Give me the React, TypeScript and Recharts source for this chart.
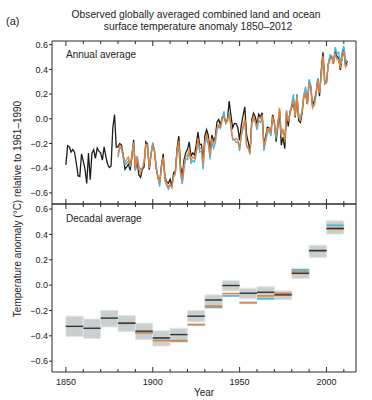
import React from "react";
import {
  ComposedChart,
  Line,
  XAxis,
  YAxis,
  ReferenceArea,
  ReferenceLine,
  Label,
} from "recharts";

// annual anomalies, black series from 1850, the two others from 1880
const START_YEAR = 1850;
const OTHER_START = 1880;

const hadcrut = [
  -0.373, -0.218, -0.228, -0.269, -0.248, -0.272, -0.358, -0.461, -0.467, -0.284,
  -0.343, -0.407, -0.524, -0.278, -0.494, -0.279, -0.251, -0.321, -0.238, -0.262,
  -0.276, -0.335, -0.227, -0.304, -0.368, -0.395, -0.384, -0.075, 0.035, -0.23,
  -0.227, -0.2, -0.213, -0.296, -0.409, -0.389, -0.367, -0.418, -0.307, -0.171,
  -0.416, -0.33, -0.455, -0.473, -0.41, -0.39, -0.186, -0.206, -0.412, -0.289,
  -0.203, -0.259, -0.402, -0.479, -0.52, -0.377, -0.283, -0.465, -0.511, -0.522,
  -0.49, -0.544, -0.437, -0.424, -0.244, -0.141, -0.383, -0.468, -0.333, -0.275,
  -0.247, -0.187, -0.302, -0.276, -0.294, -0.215, -0.108, -0.21, -0.206, -0.35,
  -0.137, -0.087, -0.137, -0.273, -0.131, -0.178, -0.147, -0.026, -0.006, -0.052,
  0.014, 0.02, -0.027, -0.004, 0.144, 0.025, -0.071, -0.038, -0.039, -0.074,
  -0.173, -0.052, 0.028, 0.097, -0.129, -0.19, -0.267, -0.007, 0.046, 0.017,
  -0.049, 0.038, 0.014, 0.048, -0.223, -0.14, -0.068, -0.074, -0.113, 0.032,
  -0.027, -0.186, -0.065, 0.062, -0.214, -0.149, -0.241, 0.047, -0.062, 0.057,
  0.092, 0.14, 0.011, 0.194, -0.014, -0.03, 0.045, 0.192, 0.198, 0.118,
  0.296, 0.254, 0.105, 0.148, 0.208, 0.325, 0.183, 0.39, 0.539, 0.306,
  0.294, 0.441, 0.496, 0.505, 0.447, 0.545, 0.506, 0.491, 0.395, 0.506,
  0.56, 0.425, 0.47,
];

const orangeAnnual = [
  -0.29, -0.22, -0.24, -0.3, -0.35, -0.33, -0.31, -0.38, -0.29, -0.2,
  -0.4, -0.31, -0.41, -0.44, -0.4, -0.36, -0.2, -0.24, -0.4, -0.29,
  -0.21, -0.27, -0.4, -0.47, -0.52, -0.4, -0.31, -0.47, -0.53, -0.55,
  -0.53, -0.56, -0.46, -0.44, -0.26, -0.18, -0.42, -0.5, -0.37, -0.3,
  -0.3, -0.25, -0.34, -0.31, -0.32, -0.27, -0.16, -0.24, -0.24, -0.37,
  -0.18, -0.13, -0.17, -0.3, -0.16, -0.2, -0.16, -0.07, -0.05, -0.07,
  -0.01, 0.02, -0.03, -0.01, 0.04, -0.07, -0.16, -0.17, -0.16, -0.17,
  -0.24, -0.12, -0.06, 0.0, -0.21, -0.24, -0.28, -0.03, 0.02, -0.02,
  -0.07, 0.01, 0.0, 0.03, -0.23, -0.16, -0.08, -0.08, -0.11, 0.02,
  -0.03, -0.13, -0.03, 0.09, -0.13, -0.09, -0.19, 0.06, -0.02, 0.03,
  0.1, 0.15, 0.02, 0.18, 0.01, -0.01, 0.06, 0.18, 0.21, 0.12,
  0.29, 0.24, 0.09, 0.12, 0.2, 0.31, 0.21, 0.38, 0.51, 0.3,
  0.3, 0.43, 0.48, 0.5, 0.45, 0.53, 0.48, 0.48, 0.41, 0.49,
  0.55, 0.42, 0.44,
];

const blueAnnual = [
  -0.31, -0.24, -0.23, -0.32, -0.37, -0.36, -0.34, -0.39, -0.28, -0.19,
  -0.42, -0.3, -0.38, -0.41, -0.4, -0.34, -0.22, -0.21, -0.39, -0.28,
  -0.19, -0.26, -0.38, -0.47, -0.55, -0.38, -0.33, -0.5, -0.54, -0.57,
  -0.54, -0.55, -0.47, -0.45, -0.27, -0.24, -0.45, -0.53, -0.41, -0.32,
  -0.33, -0.27, -0.36, -0.34, -0.35, -0.29, -0.18, -0.27, -0.26, -0.41,
  -0.21, -0.16, -0.21, -0.33, -0.19, -0.24, -0.2, -0.09, -0.06, -0.08,
  0.01, 0.06, -0.04, -0.02, 0.05, -0.06, -0.17, -0.17, -0.19, -0.19,
  -0.26, -0.14, -0.08, -0.01, -0.22, -0.24, -0.29, -0.05, 0.0, -0.03,
  -0.09, -0.01, -0.03, 0.0, -0.26, -0.18, -0.12, -0.09, -0.14, 0.0,
  -0.04, -0.16, -0.05, 0.08, -0.14, -0.08, -0.17, 0.07, -0.02, 0.05,
  0.12, 0.2, 0.03, 0.2, 0.04, 0.01, 0.07, 0.2, 0.26, 0.14,
  0.32, 0.27, 0.09, 0.11, 0.19, 0.33, 0.21, 0.34, 0.49, 0.28,
  0.29, 0.44, 0.52, 0.51, 0.45, 0.58, 0.53, 0.54, 0.44, 0.54,
  0.59, 0.48, 0.45,
];

// decadal averages
const decades = [1850, 1860, 1870, 1880, 1890, 1900, 1910, 1920, 1930, 1940, 1950, 1960, 1970, 1980, 1990, 2000];
const decBlack = [-0.325, -0.34, -0.26, -0.3, -0.363, -0.416, -0.39, -0.245, -0.117, -0.003, -0.064, -0.056, -0.077, 0.093, 0.272, 0.445];
const decOrange = [null, null, null, -0.3, -0.373, -0.437, -0.437, -0.31, -0.165, -0.067, -0.139, -0.085, -0.064, 0.104, 0.272, 0.453];
const decBlue = [null, null, null, -0.302, -0.376, -0.42, -0.44, -0.313, -0.173, -0.085, -0.137, -0.107, -0.07, 0.12, 0.274, 0.472];
const boxLow = [-0.405, -0.42, -0.33, -0.365, -0.43, -0.48, -0.45, -0.29, -0.184, -0.045, -0.107, -0.115, -0.115, 0.053, 0.219, 0.403];
const boxHigh = [-0.245, -0.267, -0.2, -0.24, -0.3, -0.36, -0.34, -0.2, -0.077, 0.035, -0.024, -0.013, -0.045, 0.133, 0.315, 0.507];

const yTicks = [-0.6, -0.4, -0.2, 0, 0.2, 0.4, 0.6];
const xTicks = [1850, 1860, 1870, 1880, 1890, 1900, 1910, 1920, 1930, 1940, 1950, 1960, 1970, 1980, 1990, 2000, 2010];
const xLabels = [1850, 1900, 1950, 2000];

const X_DOMAIN = [1842, 2017];
const TOP_DOMAIN = [-0.69, 0.63];
const BOTTOM_DOMAIN = [-0.685, 0.64];
const FONT = "'Liberation Sans', Arial, Helvetica, sans-serif";
const AXIS = "#2b2b2b";
const BLACK = "#1c1c1c";
const ORANGE = "#ef7d2d";
const BLUE = "#3bb5e8";
const BOX = "#c9cece";

const annual = hadcrut.map((v, i) => {
  const year = START_YEAR + i;
  const j = year - OTHER_START;
  return {
    year,
    hadcrut: v,
    orange: j >= 0 ? orangeAnnual[j] : null,
    blue: j >= 0 ? blueAnnual[j] : null,
  };
});

const decadal = decades.map((d, i) => ({
  year: d,
  black: decBlack[i],
  low: boxLow[i],
  high: boxHigh[i],
}));

const fmtY = (v: number) => v.toFixed(1).replace("-", "\u2212");
const tickFont = { fontSize: 9, fill: "#222", fontFamily: FONT };

// inward decade ticks, a bit longer at the labelled years
const edgeTick = (dir: number, withLabel = false) => (props: any) => {
  const { x, y, payload } = props;
  const major = xLabels.includes(payload.value);
  const len = major ? 5 : 3;
  return (
    <g>
      <line x1={x} x2={x} y1={y} y2={y + dir * len} stroke={AXIS} strokeWidth={1} />
      {withLabel && major && (
        <text x={x} y={y + 13} textAnchor="middle" fontSize={9} fill="#222" fontFamily={FONT}>
          {payload.value}
        </text>
      )}
    </g>
  );
};

function AnnualPanel() {
  return (
    <ComposedChart
      width={372}
      height={400}
      data={annual}
      margin={{ top: 40, right: 6, bottom: 195, left: 22 }}
    >
      <XAxis xAxisId="t" orientation="top" type="number" dataKey="year" domain={X_DOMAIN}
        allowDataOverflow ticks={xTicks} interval={0} tick={edgeTick(1)} tickLine={false}
        tickSize={0} tickMargin={0} height={1} stroke={AXIS} />
      <XAxis xAxisId="b" type="number" dataKey="year" domain={X_DOMAIN} allowDataOverflow
        ticks={xTicks} interval={0} tick={edgeTick(-1)} tickLine={false} tickSize={0} tickMargin={0}
        height={1} stroke={AXIS} />
      <YAxis yAxisId="l" type="number" domain={TOP_DOMAIN} allowDataOverflow ticks={yTicks} width={30}
        interval={0} tickSize={3} tickMargin={1} tick={tickFont} tickFormatter={fmtY} stroke={AXIS} />
      <YAxis yAxisId="r" orientation="right" type="number" domain={TOP_DOMAIN} allowDataOverflow
        ticks={yTicks} interval={0} width={10} tick={false} tickSize={-4} stroke={AXIS} />
      <Line xAxisId="b" yAxisId="l" dataKey="hadcrut" stroke={BLACK} strokeWidth={1.3}
        dot={false} isAnimationActive={false} />
      <Line xAxisId="b" yAxisId="l" dataKey="blue" stroke={BLUE} strokeWidth={1.3}
        dot={false} isAnimationActive={false} />
      <Line xAxisId="b" yAxisId="l" dataKey="orange" stroke={ORANGE} strokeWidth={1.3}
        dot={false} isAnimationActive={false} />
    </ComposedChart>
  );
}

function DecadalPanel() {
  return (
    <ComposedChart
      width={372}
      height={400}
      data={decadal}
      margin={{ top: 203, right: 6, bottom: 0, left: 22 }}
    >
      <XAxis xAxisId="t" orientation="top" type="number" dataKey="year" domain={X_DOMAIN}
        allowDataOverflow ticks={xTicks} interval={0} tick={edgeTick(1)} tickLine={false}
        tickSize={0} tickMargin={0} height={1} stroke={AXIS} />
      <XAxis xAxisId="b" type="number" dataKey="year" domain={X_DOMAIN} allowDataOverflow ticks={xTicks}
        interval={0} tick={edgeTick(-1, true)} tickLine={false} tickSize={0} tickMargin={0} height={28}
        stroke={AXIS}>
        <Label value="Year" position="insideBottom" offset={4}
          style={{ fontSize: 10, fill: "#222", fontFamily: FONT }} />
      </XAxis>
      <YAxis yAxisId="l" type="number" dataKey="black" domain={BOTTOM_DOMAIN} allowDataOverflow
        ticks={yTicks} interval={0} width={30} tickSize={3} tickMargin={1} tick={tickFont}
        tickFormatter={fmtY} stroke={AXIS} />
      <YAxis yAxisId="r" orientation="right" type="number" dataKey="black" domain={BOTTOM_DOMAIN}
        allowDataOverflow ticks={yTicks} interval={0} width={10} tick={false} tickSize={-4} stroke={AXIS} />
      {decades.map((d, i) => (
        <ReferenceArea key={`box-${d}`} xAxisId="b" yAxisId="l" x1={d} x2={d + 10}
          y1={boxLow[i]} y2={boxHigh[i]} fill={BOX} fillOpacity={1} stroke="#e2e5e5" strokeWidth={1} />
      ))}
      {decades.map((d, i) =>
        decBlue[i] == null ? null : (
          <ReferenceLine key={`bl-${d}`} xAxisId="b" yAxisId="l" stroke={BLUE} strokeWidth={1.6}
            segment={[{ x: d, y: decBlue[i] }, { x: d + 10, y: decBlue[i] }]} />
        )
      )}
      {decades.map((d, i) =>
        decOrange[i] == null ? null : (
          <ReferenceLine key={`or-${d}`} xAxisId="b" yAxisId="l" stroke={ORANGE} strokeWidth={1.6}
            segment={[{ x: d, y: decOrange[i] }, { x: d + 10, y: decOrange[i] }]} />
        )
      )}
      {decades.map((d, i) => (
        <ReferenceLine key={`bk-${d}`} xAxisId="b" yAxisId="l" stroke="#333" strokeWidth={1.4}
          segment={[{ x: d, y: decBlack[i] }, { x: d + 10, y: decBlack[i] }]} />
      ))}
    </ComposedChart>
  );
}

export default function App() {
  const text: React.CSSProperties = {
    position: "absolute",
    fontFamily: FONT,
    color: "#222",
    whiteSpace: "nowrap",
    lineHeight: 1,
  };
  return (
    <div style={{ position: "absolute", left: 0, top: 0, width: 372, height: 400, background: "#fff", overflow: "hidden" }}>
      <div style={{ position: "absolute", left: 0, top: 0 }}>
        <DecadalPanel />
      </div>
      <div style={{ position: "absolute", left: 0, top: 0 }}>
        <AnnualPanel />
      </div>
      <div style={{ ...text, left: 196, top: 10, fontSize: 10.3, transform: "translateX(-50%)", textAlign: "center" }}>
        Observed globally averaged combined land and ocean
      </div>
      <div style={{ ...text, left: 198, top: 22, fontSize: 10.3, transform: "translateX(-50%)", textAlign: "center" }}>
        surface temperature anomaly 1850–2012
      </div>
      <div style={{ ...text, left: 6, top: 16, fontSize: 11 }}>(a)</div>
      <div style={{ ...text, left: 66, top: 50, fontSize: 10 }}>Annual average</div>
      <div style={{ ...text, left: 66, top: 214, fontSize: 10 }}>Decadal average</div>
      <div style={{ ...text, left: 18, top: 209, fontSize: 10, transform: "translate(-50%, -50%) rotate(-90deg)" }}>
        Temperature anomaly (°C) relative to 1961–1990
      </div>
    </div>
  );
}
